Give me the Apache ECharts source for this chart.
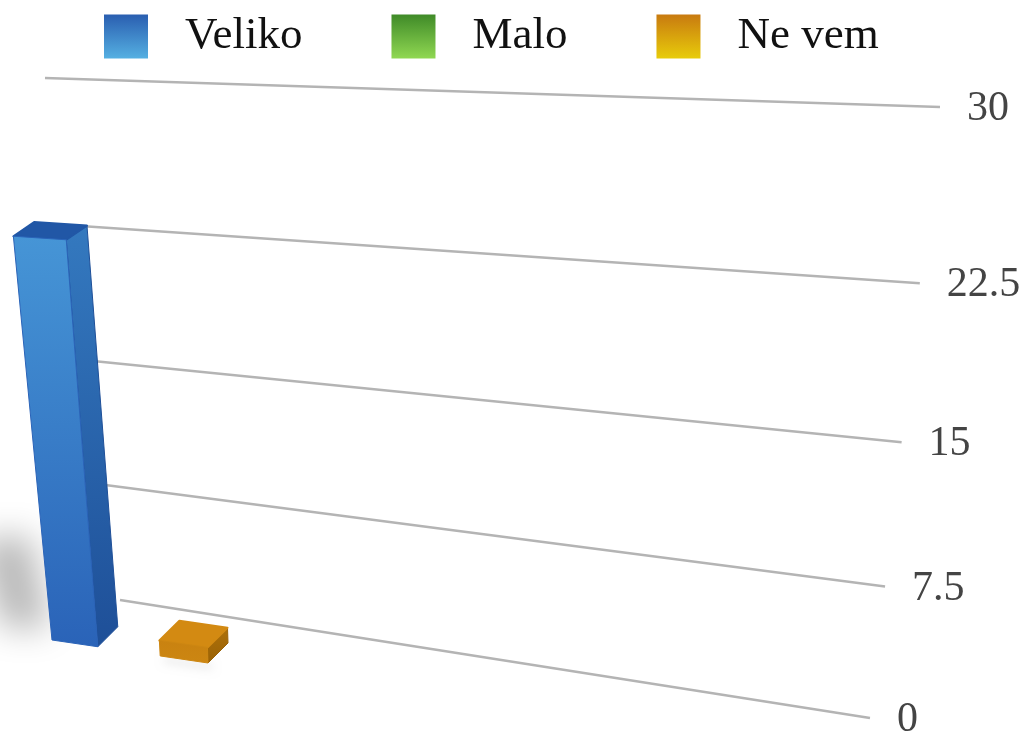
<!DOCTYPE html>
<html>
<head>
<meta charset="utf-8">
<script src="https://cdn.jsdelivr.net/npm/echarts@6/dist/echarts.min.js"></script>
<style>
  html, body { margin: 0; padding: 0; background: #fff; }
  #chart { width: 1023px; height: 733px; }
</style>
</head>
<body>
<div id="chart"></div>
<script>
var categories = ['Odgovor'];
var seriesNames = ['Veliko', 'Malo', 'Ne vem'];
var seriesValues = [23, 0, 1];
var tickValues = [0, 7.5, 15, 22.5, 30];
var tickLabels = ['0', '7.5', '15', '22.5', '30'];

var colors = [
  { front: ['#4695d6', '#2a63b8'], side: ['#3479bf', '#1e4f98'], top: '#2157a6', legend: ['#2a5eb0', '#55b0e2'] },
  { front: ['#6fbf3a', '#3f8a24'], side: ['#4f9a2c', '#2f6a1a'], top: '#3f8a24', legend: ['#3f8a28', '#90d852'] },
  { front: ['#c98210', '#cc8612'], side: ['#ad7009', '#9a6206'], top: '#d38a12', legend: ['#c87a10', '#e8cc0a'] }
];

// maps the unit square (u along categories, v along values) onto a screen quad
function quad(p0, p1, p2, p3) {
  var dx1 = p1[0] - p2[0], dx2 = p3[0] - p2[0], dx3 = p0[0] - p1[0] + p2[0] - p3[0];
  var dy1 = p1[1] - p2[1], dy2 = p3[1] - p2[1], dy3 = p0[1] - p1[1] + p2[1] - p3[1];
  var den = dx1 * dy2 - dx2 * dy1;
  var g = (dx3 * dy2 - dx2 * dy3) / den, h = (dx1 * dy3 - dx3 * dy1) / den;
  var a = p1[0] - p0[0] + g * p1[0], b = p3[0] - p0[0] + h * p3[0], c = p0[0];
  var d = p1[1] - p0[1] + g * p1[1], e = p3[1] - p0[1] + h * p3[1], f = p0[1];
  return function (u, v) {
    var w = g * u + h * v + 1;
    return [(a * u + b * v + c) / w, (d * u + e * v + f) / w];
  };
}

var wall = quad([120, 600], [870, 718], [940, 107], [45, 78]);
var front = quad([52, 640], [208, 663], [189, 93], [-1, 86]);
var back = quad([72, 620], [228, 643], [210, 81], [20, 74]);

function toUV(params, api, val) {
  var cs = params.coordSys;
  var pt = api.coord([0, val]);
  return {
    u: (pt[0] - cs.x) / cs.width,
    v: (cs.y + cs.height - pt[1]) / cs.height
  };
}

function vgrad(c0, c1) {
  return new echarts.graphic.LinearGradient(0, 0, 0, 1, [
    { offset: 0, color: c0 }, { offset: 1, color: c1 }
  ]);
}

function renderWall(params, api) {
  var p = toUV(params, api, api.value(1));
  var a = wall(0, p.v), b = wall(1, p.v);
  return {
    type: 'group',
    children: [
      { type: 'line', shape: { x1: a[0], y1: a[1], x2: b[0], y2: b[1] },
        style: { stroke: '#b4b4b4', lineWidth: 2.5 } },
      { type: 'text', x: b[0] + 27, y: b[1] + 2,
        style: { text: tickLabels[params.dataIndex], fill: '#444',
          font: '42px "Liberation Serif", serif', textAlign: 'left', textVerticalAlign: 'middle' } }
    ]
  };
}

function renderBar(params, api) {
  var val = api.value(1);
  if (!val) return null;
  var i = params.seriesIndex - 1;
  var p = toUV(params, api, val);
  var uc = p.u + (i - 1) * 0.35;
  var u0 = uc - 0.15, u1 = uc + 0.15, v = p.v;
  var fBL = front(u0, 0), fBR = front(u1, 0), fTR = front(u1, v), fTL = front(u0, v);
  var bTL = back(u0, v), bTR = back(u1, v), bBR = back(u1, 0);
  var col = colors[i];
  var h = fBL[1] - fTL[1];
  var tall = h > 60;
  var sh = tall ? [
    [fBL[0] - 2, fBL[1] - 12],
    [fBL[0] - 22, fBL[1] - 105],
    [fBL[0] - 75, fBL[1] - 100],
    [fBL[0] - 50, fBL[1] - 12]
  ] : [
    [fBL[0] + 4, fBL[1] + 2],
    [fBR[0] + 4, fBR[1] + 2],
    [fBR[0] + 4, fBR[1] + 6],
    [fBL[0] + 4, fBL[1] + 6]
  ];
  var off = 3000;
  return {
    type: 'group',
    children: [
      { type: 'polygon', shape: { points: sh.map(function (q) { return [q[0] - off, q[1]]; }) },
        style: { fill: '#000', shadowColor: tall ? 'rgba(0,0,0,0.28)' : 'rgba(0,0,0,0.12)',
          shadowBlur: tall ? 34 : 10, shadowOffsetX: off } },
      { type: 'polygon', shape: { points: [fTR, bTR, bBR, fBR] },
        style: { fill: vgrad(col.side[0], col.side[1]), stroke: col.side[1], lineWidth: 1, lineJoin: 'round' } },
      { type: 'polygon', shape: { points: [fTL, fTR, bTR, bTL] },
        style: { fill: col.top, stroke: col.top, lineWidth: 2, lineJoin: 'round' } },
      { type: 'polygon', shape: { points: [fBL, fBR, fTR, fTL] },
        style: { fill: vgrad(col.front[0], col.front[1]), stroke: col.front[1], lineWidth: 1, lineJoin: 'round' } }
    ]
  };
}

var series = [{
  type: 'custom',
  name: 'wall',
  silent: true,
  z: 1,
  renderItem: renderWall,
  data: tickValues.map(function (t) { return [0, t]; })
}];
seriesNames.forEach(function (name, i) {
  series.push({
    type: 'custom',
    name: name,
    z: 2,
    itemStyle: { color: colors[i].legend[0] },
    renderItem: renderBar,
    data: [[0, seriesValues[i]]]
  });
});

var chart = echarts.init(document.getElementById('chart'));
chart.setOption({
  animation: false,
  grid: { left: 0, right: 0, top: 0, bottom: 0 },
  xAxis: { type: 'category', data: categories, show: false },
  yAxis: { type: 'value', min: 0, max: 30, interval: 7.5, show: false },
  legend: {
    left: 104,
    top: 14,
    padding: 0,
    itemWidth: 44,
    itemHeight: 44,
    itemGap: 89,
    icon: 'rect',
    selectedMode: false,
    textStyle: { fontFamily: '"Liberation Serif", serif', fontSize: 45, color: '#111', padding: [6, 0, 0, 32] },
    data: seriesNames.map(function (name, i) {
      return { name: name, itemStyle: { color: vgrad(colors[i].legend[0], colors[i].legend[1]) } };
    })
  },
  series: series
});
</script>
</body>
</html>
